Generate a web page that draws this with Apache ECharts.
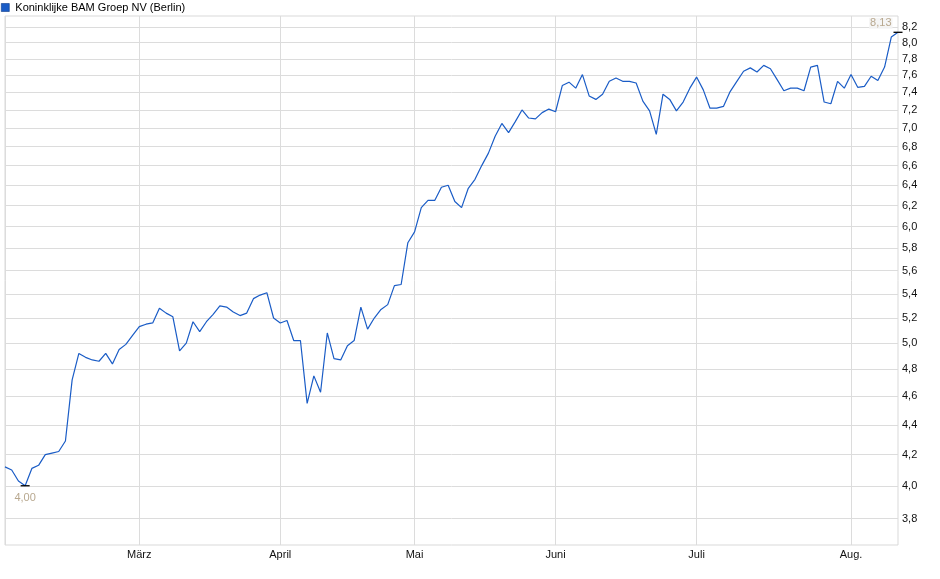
<!DOCTYPE html>
<html>
<head>
<meta charset="utf-8">
<script src="https://cdn.jsdelivr.net/npm/echarts@6/dist/echarts.min.js"></script>
<style>
  html, body { margin: 0; padding: 0; background: #fff; }
  #kurs { width: 940px; height: 579px; }
</style>
</head>
<body>
<div id="kurs"></div>
<script>
// Handelstage je Monat (Feb. bis Aug.)
var monate = ['Feb.', 'März', 'April', 'Mai', 'Juni', 'Juli', 'Aug.'];
var handelstage = [20, 21, 20, 21, 21, 23, 8];

// Schlusskurse in EUR
var kurse = [
  4.12, 4.10, 4.03, 4.00, 4.11, 4.13, 4.20, 4.21, 4.22, 4.29,
  4.72, 4.92, 4.89, 4.87, 4.86, 4.92, 4.84, 4.95, 4.99, 5.06,
  5.13, 5.15, 5.16, 5.28, 5.24, 5.21, 4.94, 5.00, 5.17, 5.09,
  5.17, 5.23, 5.30, 5.29, 5.25, 5.22, 5.24, 5.36, 5.39, 5.41,
  5.20, 5.16, 5.18, 5.02, 5.02, 4.55, 4.75, 4.63, 5.08, 4.88,
  4.87, 4.98, 5.02, 5.29, 5.11, 5.20, 5.27, 5.31, 5.47, 5.48,
  5.85, 5.95, 6.18, 6.25, 6.25, 6.38, 6.40, 6.24, 6.18, 6.37,
  6.46, 6.60, 6.73, 6.91, 7.05, 6.95, 7.07, 7.20, 7.11, 7.10,
  7.17, 7.21, 7.18, 7.48, 7.52, 7.45, 7.61, 7.36, 7.32, 7.38,
  7.53, 7.57, 7.53, 7.53, 7.51, 7.30, 7.19, 6.93, 7.38, 7.32,
  7.19, 7.29, 7.45, 7.58, 7.43, 7.22, 7.22, 7.24, 7.41, 7.53,
  7.65, 7.69, 7.64, 7.72, 7.68, 7.55, 7.42, 7.45, 7.45, 7.42,
  7.70, 7.72, 7.29, 7.27, 7.53, 7.45, 7.61, 7.46, 7.47, 7.59,
  7.54, 7.70, 8.07, 8.13
];

var yTicks = [3.8, 4.0, 4.2, 4.4, 4.6, 4.8, 5.0, 5.2, 5.4, 5.6, 5.8, 6.0,
              6.2, 6.4, 6.6, 6.8, 7.0, 7.2, 7.4, 7.6, 7.8, 8.0, 8.2];

var tage = [];
var monatsAnfang = [];
for (var m = 0; m < monate.length; m++) {
  monatsAnfang.push(tage.length);
  for (var d = 0; d < handelstage[m]; d++) {
    tage.push(d === 0 ? monate[m] : monate[m] + ' ' + (d + 1));
  }
}

function zeigeMonat(idx) {
  return idx > 0 && monatsAnfang.indexOf(idx) >= 0;
}
function komma(v, n) {
  return Number(v).toFixed(n).replace('.', ',');
}

var chart = echarts.init(document.getElementById('kurs'));
chart.setOption({
  backgroundColor: '#fff',
  animation: false,
  textStyle: { fontFamily: 'Liberation Sans, Arial, sans-serif' },
  legend: {
    left: 1,
    top: 2,
    padding: 0,
    itemWidth: 8,
    itemHeight: 8,
    itemGap: 4,
    icon: 'rect',
    itemStyle: { borderColor: '#0c3a8a', borderWidth: 0.6 },
    textStyle: { fontSize: 11, color: '#000', padding: [0, 0, 0, 1] },
    data: ['Koninklijke BAM Groep NV (Berlin)']
  },
  grid: {
    left: 5,
    right: 42,
    top: 16,
    bottom: 34,
    show: true,
    borderColor: '#d9d9d9',
    borderWidth: 1
  },
  xAxis: {
    type: 'category',
    data: tage,
    boundaryGap: false,
    axisLine: { show: false },
    axisTick: { show: false },
    axisLabel: {
      interval: function (idx) { return zeigeMonat(idx); },
      formatter: function (v) { return v.split(' ')[0]; },
      color: '#111',
      fontSize: 11,
      margin: 4
    },
    splitLine: {
      show: true,
      interval: function (idx) { return idx === 0 || zeigeMonat(idx); },
      lineStyle: { color: '#dcdcdc', width: 1 }
    }
  },
  yAxis: {
    type: 'log',
    logBase: 10,
    position: 'right',
    min: 3.646,
    max: 8.34,
    axisLine: { show: false },
    axisTick: { show: false, customValues: yTicks },
    axisLabel: {
      customValues: yTicks,
      formatter: function (v) { return komma(v, 1); },
      color: '#111',
      fontSize: 11,
      margin: 4
    },
    splitLine: { show: true, lineStyle: { color: '#dcdcdc', width: 1 } }
  },
  series: [{
    name: 'Koninklijke BAM Groep NV (Berlin)',
    type: 'line',
    data: kurse,
    symbol: 'none',
    color: '#1a5cc6',
    lineStyle: { width: 1.2, color: '#1a5cc6' },
    markPoint: {
      symbol: 'rect',
      symbolSize: [9, 1.3],
      itemStyle: { color: '#000' },
      data: [
        {
          type: 'min',
          label: {
            position: 'bottom',
            distance: 6,
            formatter: function (p) { return komma(p.value, 2); },
            color: '#b8a88f',
            fontSize: 11
          }
        },
        {
          type: 'max',
          label: {
            position: 'left',
            offset: [-1, -9],
            distance: 0,
            formatter: function (p) { return komma(p.value, 2); },
            color: '#b8a88f',
            fontSize: 11,
            backgroundColor: 'rgba(244,244,244,0.9)',
            padding: [0, 1]
          }
        }
      ]
    }
  }]
});
</script>
</body>
</html>
